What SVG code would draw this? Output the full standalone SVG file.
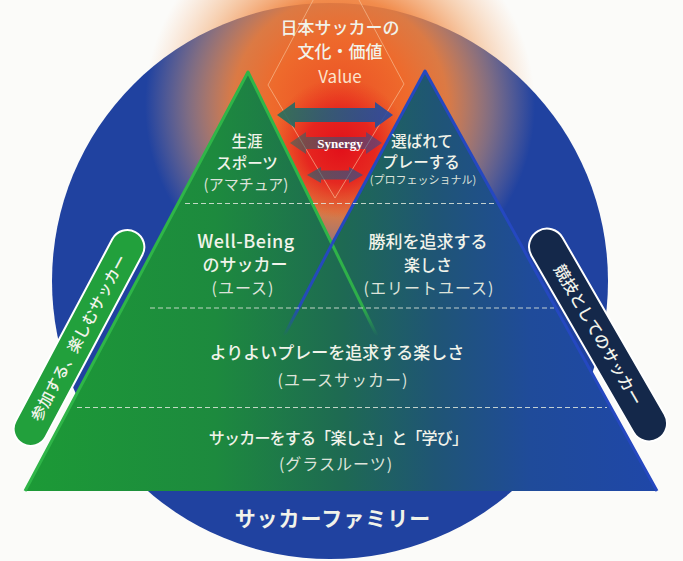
<svg xmlns="http://www.w3.org/2000/svg" width="683" height="561" viewBox="0 0 683 561">
<style>
.t{font-family:"Noto Sans CJK JP","Noto Sans",sans-serif;fill:#f1f3ea;text-anchor:middle;font-weight:500}
.p{fill:#dde3da;font-weight:400}
.dash{stroke:#dfe6dc;stroke-width:1.2;stroke-dasharray:5 3;fill:none;opacity:0.85}
</style>
<defs>
<radialGradient id="glow" gradientUnits="userSpaceOnUse" cx="340" cy="105" r="195">
<stop offset="0" stop-color="#ec4e24" stop-opacity="1"/>
<stop offset="0.35" stop-color="#ee6a2c" stop-opacity="1"/>
<stop offset="0.55" stop-color="#f0803a" stop-opacity="0.9"/>
<stop offset="0.78" stop-color="#f2a060" stop-opacity="0.45"/>
<stop offset="1" stop-color="#f5b080" stop-opacity="0"/>
</radialGradient>
<radialGradient id="core" gradientUnits="userSpaceOnUse" cx="340" cy="148" r="70">
<stop offset="0" stop-color="#e2101a" stop-opacity="1"/>
<stop offset="0.5" stop-color="#e41c1e" stop-opacity="0.85"/>
<stop offset="1" stop-color="#e8301c" stop-opacity="0"/>
</radialGradient>
<linearGradient id="pyr" gradientUnits="userSpaceOnUse" x1="25" y1="0" x2="657" y2="0">
<stop offset="0" stop-color="#1c9a36"/>
<stop offset="0.3" stop-color="#1d8a3e"/>
<stop offset="0.5" stop-color="#1e6a52"/>
<stop offset="0.65" stop-color="#1f5575"/>
<stop offset="0.8" stop-color="#1f4b9a"/>
<stop offset="1" stop-color="#1f47a8"/>
</linearGradient>
<linearGradient id="arr" gradientUnits="userSpaceOnUse" x1="277" y1="0" x2="393" y2="0">
<stop offset="0" stop-color="#24705a"/>
<stop offset="1" stop-color="#2448a6"/>
</linearGradient>
<linearGradient id="fadeG" gradientUnits="userSpaceOnUse" x1="0" y1="240" x2="0" y2="336">
<stop offset="0" stop-color="#2fb548" stop-opacity="1"/>
<stop offset="0.7" stop-color="#2fb548" stop-opacity="0.9"/>
<stop offset="1" stop-color="#2fb548" stop-opacity="0"/>
</linearGradient>
<linearGradient id="fadeB" gradientUnits="userSpaceOnUse" x1="0" y1="240" x2="0" y2="336">
<stop offset="0" stop-color="#2548c0" stop-opacity="1"/>
<stop offset="0.7" stop-color="#2548c0" stop-opacity="0.9"/>
<stop offset="1" stop-color="#2548c0" stop-opacity="0"/>
</linearGradient>
</defs>
<rect width="683" height="561" fill="#fbfbf9"/>
<g id="family-circle">
<circle cx="330" cy="281" r="278" fill="#2042a0"/>
</g>
<g id="glow">
<rect x="140" y="-100" width="400" height="400" fill="url(#glow)"/>
<circle cx="340" cy="148" r="70" fill="url(#core)"/>
<polygon points="336,-43 404,84 335,198 268,85" fill="none" stroke="#f8c8a0" stroke-width="1" opacity="0.6"/>
</g>
<g id="pyramid">
<polygon points="248,72 332,244 425,71 657,491 25,491" fill="url(#pyr)"/>
<polyline points="25,491 248,72 332,244" fill="none" stroke="#2fb548" stroke-width="3" stroke-linejoin="round"/>
<line x1="332" y1="244" x2="377" y2="336" stroke="url(#fadeG)" stroke-width="3"/>
<polyline points="332,244 425,71 657,491" fill="none" stroke="#2548c0" stroke-width="3" stroke-linejoin="round"/>
<line x1="332" y1="244" x2="284" y2="336" stroke="url(#fadeB)" stroke-width="3"/>
<line class="dash" x1="185" y1="203.5" x2="497" y2="203.5"/>
<line class="dash" x1="150" y1="308" x2="554" y2="308" opacity="0.45"/>
<line class="dash" x1="77" y1="407.5" x2="607" y2="407.5"/>
</g>
<g id="connectors">
<path d="M277,115 L295,102 L295,108 L375,108 L375,102 L393,115 L375,128 L375,122 L295,122 L295,128 Z" fill="url(#arr)" opacity="0.9"/>
<path d="M290,143 L306,132 L306,137 L366,137 L366,132 L382,143 L366,154 L366,149 L306,149 L306,154 Z" fill="url(#arr)" opacity="0.55"/>
<path d="M307,175 L321,167 L321,170.5 L349,170.5 L349,167 L363,175 L349,183 L349,179.5 L321,179.5 L321,183 Z" fill="url(#arr)" opacity="0.65"/>
<text x="340" y="147.5" font-family="Liberation Serif, serif" font-weight="bold" font-size="13" fill="#ffffff" text-anchor="middle">Synergy</text>
</g>
<g id="value">
<text class="t" x="340" y="34" font-size="17">日本サッカーの</text>
<text class="t" x="340" y="58" font-size="17">文化・価値</text>
<text class="t" x="340" y="83" font-size="17" style="fill:#fbe2cc;font-weight:400">Value</text>
</g>
<g id="amateur">
<text class="t" x="247" y="147" font-size="15.5">生涯</text>
<text class="t" x="247" y="169" font-size="15.5">スポーツ</text>
<text class="t p" x="246" y="190" font-size="15">(アマチュア)</text>
</g>
<g id="professional">
<text class="t" x="422" y="147" font-size="15.5">選ばれて</text>
<text class="t" x="421" y="168" font-size="15.5">プレーする</text>
<text class="t p" x="423" y="184" font-size="11">(プロフェッショナル)</text>
</g>
<g id="wellbeing">
<text class="t" x="246" y="248" font-size="18" letter-spacing="0.5">Well-Being</text>
<text class="t" x="245" y="271" font-size="17">のサッカー</text>
<text class="t p" x="243" y="294" font-size="16" letter-spacing="1">(ユース)</text>
</g>
<g id="elite">
<text class="t" x="428" y="248" font-size="17">勝利を追求する</text>
<text class="t" x="428" y="271" font-size="16">楽しさ</text>
<text class="t p" x="429" y="294" font-size="16" letter-spacing="1">(エリートユース)</text>
</g>
<g id="youth">
<text class="t" x="337" y="359" font-size="17">よりよいプレーを追求する楽しさ</text>
<text class="t p" x="343" y="386" font-size="16" letter-spacing="1">(ユースサッカー)</text>
</g>
<g id="grassroots">
<text class="t" x="338" y="444" font-size="16" letter-spacing="-0.8">サッカーをする「楽しさ」と「学び」</text>
<text class="t p" x="336" y="470" font-size="16" letter-spacing="1">(グラスルーツ)</text>
</g>
<g id="family">
<text class="t" x="333" y="526" font-size="21" letter-spacing="1" style="font-weight:700">サッカーファミリー</text>
</g>
<g id="pill-left" transform="translate(79,338) rotate(-62)">
<rect x="-120" y="-17" width="240" height="34" rx="17" fill="#22a03c" stroke="#ffffff" stroke-width="2"/>
<text class="t" x="0" y="5.5" font-size="15.5">参加する、楽しむサッカー</text>
</g>
<g id="pill-right" transform="translate(598,335) rotate(60)">
<rect x="-120" y="-18" width="240" height="36" rx="18" fill="#14284a" stroke="#ffffff" stroke-width="2"/>
<text class="t" x="0" y="5.5" font-size="16">競技としてのサッカー</text>
</g>
</svg>
